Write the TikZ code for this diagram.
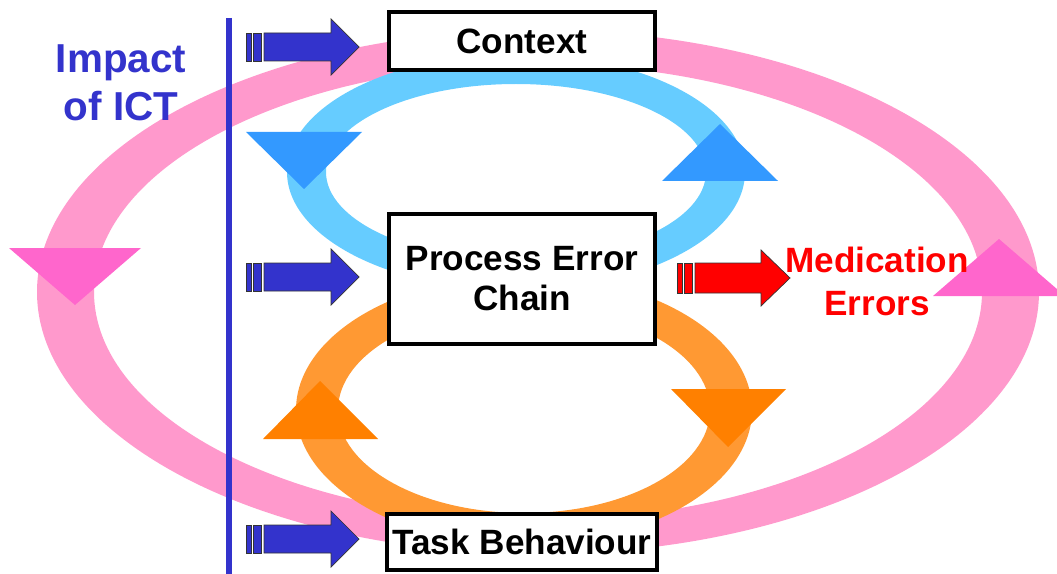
\documentclass[tikz,border=0pt]{standalone}
\usepackage{fontspec}
\setmainfont{Liberation Sans}
\definecolor{ringpink}{HTML}{FF99CC}
\definecolor{ringblue}{HTML}{66CCFF}
\definecolor{ringorange}{HTML}{FF9933}
\definecolor{tripink}{HTML}{FF66CC}
\definecolor{triblue}{HTML}{3399FF}
\definecolor{triorange}{HTML}{FF8000}
\definecolor{ictblue}{HTML}{3333CC}
\begin{document}
\begin{tikzpicture}[x=0.02cm,y=-0.02cm,
    stagebox/.style={draw,line width=2.3pt,fill=white,align=center,
        font=\bfseries\fontsize{20}{22.8}\selectfont,minimum width=5.32cm},
    blockarrow/.style={draw=black!80,line width=0.4pt,fill=#1}]
    \useasboundingbox (0,0) rectangle (1057,574);

    % Outer loop (ICT)
    \fill[ringpink,even odd rule] (538,292) ellipse [x radius=501,y radius=262]
        (538,292) ellipse [x radius=444,y radius=228];

    % Upper and lower loops
    \fill[ringblue,even odd rule] (516,172) ellipse [x radius=229,y radius=118]
        (516,172) ellipse [x radius=190,y radius=88];
    \fill[ringorange,even odd rule] (524,410) ellipse [x radius=228,y radius=135]
        (524,410) ellipse [x radius=186,y radius=103];

    % Direction marks on the loops
    \fill[tripink] (9,248) -- (141,248) -- (75,305) -- cycle;
    \fill[tripink] (933,296) -- (1065,296) -- (999,239) -- cycle;
    \fill[triblue] (246,132) -- (362,132) -- (304,189) -- cycle;
    \fill[triblue] (662,181) -- (778,181) -- (720,124) -- cycle;
    \fill[triorange] (263,439) -- (378,439) -- (320,381) -- cycle;
    \fill[triorange] (671,389) -- (786,389) -- (728,447) -- cycle;

    % Boxes
    \node[stagebox,minimum height=1.16cm] (context) at (522,41) {Context};
    \node[stagebox,minimum height=2.6cm] (chain) at (522,279) {Process Error\\Chain};
    \node[stagebox,minimum height=1.12cm] (task) at (522,542) {Task Behaviour};

    % ICT line and labels
    \draw[ictblue,line width=0.12cm] (229,18) -- (229,574);
    \node[ictblue,align=center,font=\bfseries\fontsize{23}{27}\selectfont] (ict) at (121,83) {Impact\\of ICT};
    \node[red,align=center,font=\bfseries\fontsize{20}{24.5}\selectfont] (errors) at (877,281) {Medication\\Errors};

    % Striped arrows into the boxes
    \foreach \y in {47,277,539} {
        \begin{scope}[shift={(246,\y)}]
            \draw[blockarrow=ictblue] (0,-14) rectangle (5,14);
            \draw[blockarrow=ictblue] (7,-14) rectangle (15,14);
            \draw[blockarrow=ictblue] (18,-14) -- (85,-14) -- (85,-28) -- (113,0) -- (85,28) -- (85,14) -- (18,14) -- cycle;
        \end{scope}
    }
    \begin{scope}[shift={(677,278)}]
        \draw[blockarrow=red] (0,-15) rectangle (5,15);
        \draw[blockarrow=red] (7,-15) rectangle (15,15);
        \draw[blockarrow=red] (18,-15) -- (84,-15) -- (84,-28) -- (113,0) -- (84,28) -- (84,15) -- (18,15) -- cycle;
    \end{scope}
\end{tikzpicture}
\end{document}
